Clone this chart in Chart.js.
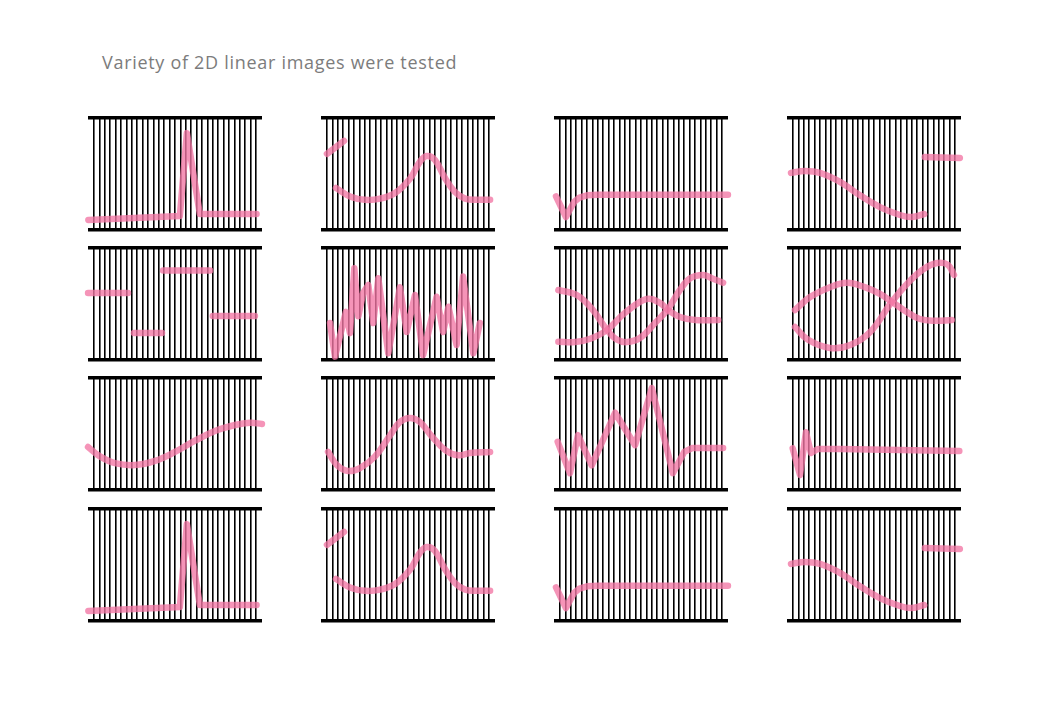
<!DOCTYPE html>
<html>
<head>
<meta charset="utf-8">
<script src="https://cdn.jsdelivr.net/npm/chart.js@4.4.1/dist/chart.umd.min.js"></script>
<style>
  html, body { margin: 0; padding: 0; background: #fff; }
  body { width: 1050px; height: 701px; position: relative; overflow: hidden; }
  #title {
    position: absolute; left: 102px; top: 50px;
    font-family: "Open Sans", "DejaVu Sans", sans-serif; font-size: 18px;
    color: #7c7c7c; letter-spacing: 0.7px; white-space: nowrap;
  }
  .panel { position: absolute; }
</style>
</head>
<body>
<div id="title">Variety of 2D linear images were tested</div>
<div id="board"></div>
<script>
// Each trace is a list of [x, y] points. x runs along the strings (0 = first string,
// 30 = last string), y runs from the bottom rail (0) to the top rail (1).

const spikePulse = [[-1.05, 0.09], [15.9, 0.125], [17.2, 0.865], [19.6, 0.143], [30.1, 0.143]];

const bumpTail = [[0, 0.68], [3.15, 0.795]];
const bumpWave = [[1.67, 0.375], [4.26, 0.30], [7.0, 0.27], [9.8, 0.28], [12.6, 0.33], [15.4, 0.46],
                  [17.2, 0.61], [18.5, 0.66], [20.0, 0.625], [21.9, 0.46], [23.7, 0.34], [25.6, 0.28],
                  [28.0, 0.27], [30.2, 0.27]];

const dipStep = [[-0.74, 0.30], [1.1, 0.116], [2.6, 0.25], [3.6, 0.29], [5.0, 0.31], [7.0, 0.315], [31.1, 0.315]];

const sCurveDrop = [[-0.37, 0.51], [2.2, 0.527], [5.0, 0.51], [8.7, 0.43], [12.4, 0.31], [16.1, 0.205],
                    [19.8, 0.134], [22.0, 0.116], [24.3, 0.143]];
const sCurveTail = [[24.4, 0.652], [30.9, 0.643]];

const stepA = [[-1.1, 0.598], [6.3, 0.598]];
const stepB = [[7.4, 0.241], [12.6, 0.241]];
const stepC = [[12.8, 0.80], [21.5, 0.80]];
const stepD = [[22.0, 0.393], [29.8, 0.393]];

const noise = [[0.56, 0.33], [1.48, 0.03], [3.5, 0.43], [4.26, 0.24], [5.06, 0.82], [5.8, 0.39], [6.7, 0.60],
               [7.65, 0.67], [8.57, 0.33], [9.5, 0.73], [11.35, 0.06], [13.5, 0.65], [14.76, 0.25],
               [16.3, 0.58], [17.8, 0.045], [20.3, 0.565], [21.5, 0.25], [22.5, 0.475], [24.0, 0.134],
               [25.2, 0.745], [27.1, 0.06], [28.3, 0.33]];

const crossHigh = [[-0.3, 0.625], [3.1, 0.58], [6.1, 0.446], [8.7, 0.268], [10.6, 0.18], [12.4, 0.16],
                   [14.8, 0.196], [17.6, 0.33], [20.0, 0.455], [22.2, 0.625], [24.1, 0.73], [26.5, 0.76],
                   [28.1, 0.73], [30.2, 0.69]];
const crossLow = [[-0.3, 0.163], [2.8, 0.16], [5.6, 0.19], [8.7, 0.268], [12.0, 0.42], [16.1, 0.545],
                  [18.5, 0.51], [20.0, 0.446], [22.2, 0.384], [25.0, 0.357], [29.3, 0.357]];

const waveUpper = [[0.37, 0.446], [3.1, 0.56], [6.85, 0.65], [10.0, 0.69], [13.3, 0.65], [16.1, 0.59],
                   [18.3, 0.52], [20.7, 0.44], [23.5, 0.366], [26.3, 0.35], [29.4, 0.357]];
const waveLower = [[0.37, 0.295], [2.8, 0.18], [6.85, 0.107], [10.6, 0.134], [14.3, 0.25], [18.3, 0.52],
                   [21.7, 0.71], [24.4, 0.82], [26.7, 0.866], [28.7, 0.85], [29.8, 0.76]];

const riseWave = [[-1.1, 0.384], [1.1, 0.30], [3.9, 0.24], [7.6, 0.223], [11.3, 0.26], [15.0, 0.34],
                  [18.7, 0.44], [22.4, 0.527], [26.1, 0.58], [28.9, 0.60], [31.1, 0.59]];

const bumpLow = [[0.2, 0.34], [1.85, 0.223], [3.9, 0.17], [6.1, 0.196], [8.9, 0.30], [11.7, 0.49],
                 [13.5, 0.607], [15.4, 0.643], [17.2, 0.607], [19.4, 0.48], [21.9, 0.357], [24.3, 0.31],
                 [26.5, 0.33], [30.2, 0.34]];

const jagged = [[-0.43, 0.43], [1.85, 0.15], [3.33, 0.49], [5.87, 0.22], [10.2, 0.69], [13.9, 0.40],
                [17.0, 0.91], [20.9, 0.15], [23.0, 0.34], [24.5, 0.375], [30.2, 0.375]];

const ringing = [[-0.06, 0.372], [1.3, 0.134], [2.4, 0.515], [3.33, 0.33], [4.6, 0.366], [8.7, 0.366], [30.8, 0.348]];

// Panel contents, row by row; "smooth" traces get curve tension.
const panels = [
  [ { lines: [spikePulse] },
    { lines: [bumpTail, bumpWave], smooth: true },
    { lines: [dipStep] },
    { lines: [sCurveDrop, sCurveTail], smooth: true } ],
  [ { lines: [stepA, stepB, stepC, stepD] },
    { lines: [noise] },
    { lines: [crossHigh, crossLow], smooth: true },
    { lines: [waveUpper, waveLower], smooth: true } ],
  [ { lines: [riseWave], smooth: true },
    { lines: [bumpLow], smooth: true },
    { lines: [jagged] },
    { lines: [ringing] } ],
  [ { lines: [spikePulse] },
    { lines: [bumpTail, bumpWave], smooth: true },
    { lines: [dipStep] },
    { lines: [sCurveDrop, sCurveTail], smooth: true } ]
];

const STRINGS = 31;            // vertical strings per panel
const PANEL_W = 174, PANEL_H = 112, PAD = 8;
const colLeft = [88, 321, 554, 787];
const rowTop = [118, 248, 378, 509];
const PINK = 'rgba(242, 118, 164, 0.78)';

const stringTicks = [];
for (let i = 0; i < STRINGS; i++) stringTicks.push({ value: i });

const board = document.getElementById('board');

panels.forEach((row, r) => {
  row.forEach((panel, c) => {
    const canvas = document.createElement('canvas');
    canvas.className = 'panel';
    canvas.width = PANEL_W + PAD * 2;
    canvas.height = PANEL_H + PAD * 2;
    canvas.style.left = (colLeft[c] - PAD) + 'px';
    canvas.style.top = (rowTop[r] - PAD) + 'px';
    canvas.style.width = canvas.width + 'px';
    canvas.style.height = canvas.height + 'px';
    board.appendChild(canvas);

    new Chart(canvas, {
      type: 'line',
      data: {
        datasets: panel.lines.map(pts => ({
          data: pts.map(([x, y]) => ({ x, y })),
          borderColor: PINK,
          borderWidth: 6.5,
          borderCapStyle: 'round',
          borderJoinStyle: 'round',
          pointRadius: 0,
          fill: false,
          tension: panel.smooth ? 0.4 : 0,
          clip: false
        }))
      },
      options: {
        responsive: false,
        animation: false,
        events: [],
        devicePixelRatio: 1,
        layout: { padding: PAD },
        plugins: { legend: { display: false }, tooltip: { enabled: false }, title: { display: false } },
        scales: {
          x: {
            type: 'linear',
            min: -1.11, max: 31.11,
            afterBuildTicks: (scale) => { scale.ticks = stringTicks.map(t => ({ value: t.value })); },
            grid: { color: '#000', lineWidth: 1.6, drawTicks: false },
            border: { display: false },
            ticks: { display: false }
          },
          y: {
            type: 'linear',
            min: 0, max: 1,
            afterBuildTicks: (scale) => { scale.ticks = [{ value: 0 }, { value: 1 }]; },
            grid: { color: '#000', lineWidth: 3.5, drawTicks: false },
            border: { display: false },
            ticks: { display: false }
          }
        }
      }
    });
  });
});
</script>
</body>
</html>
